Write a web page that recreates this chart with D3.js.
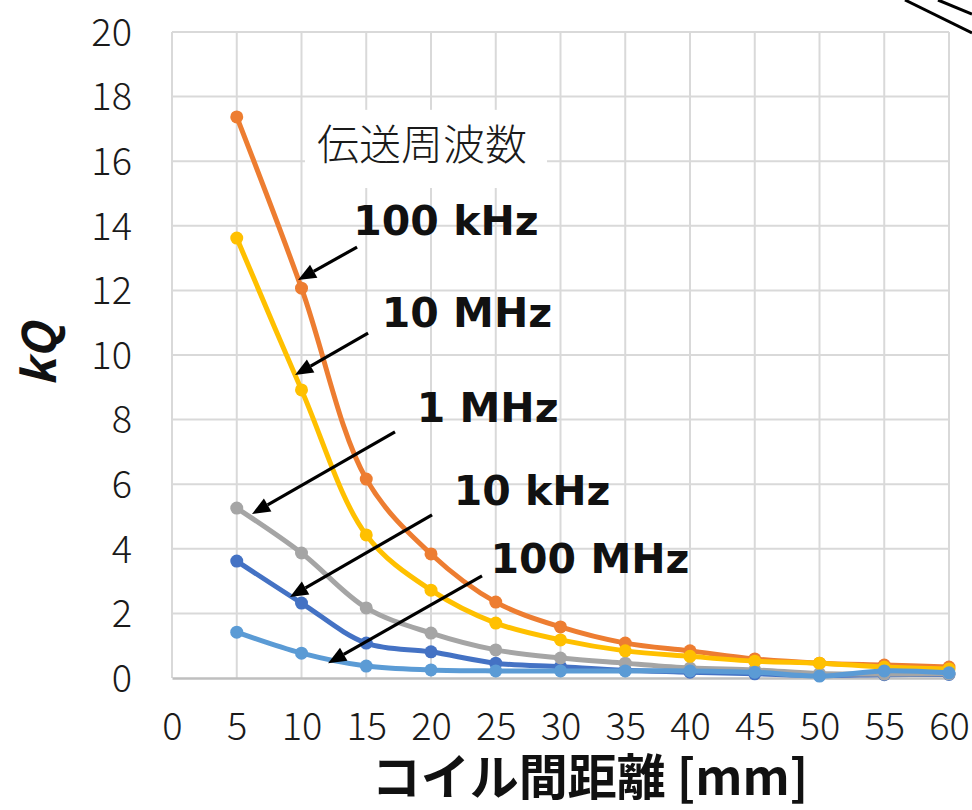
<!DOCTYPE html>
<html>
<head>
<meta charset="utf-8">
<script src="https://cdn.jsdelivr.net/npm/d3@7/dist/d3.min.js"></script>
<style>
  html, body { margin: 0; padding: 0; background: #fff; }
  svg { display: block; }
</style>
</head>
<body>
<svg id="chart" width="972" height="810"></svg>
<script>
// ---- data ----
const distances = [5, 10, 15, 20, 25, 30, 35, 40, 45, 50, 55, 60];
const seriesNames = ["10 kHz", "100 kHz", "1 MHz", "10 MHz", "100 MHz"];
const kQ_10kHz  = [3.62, 2.32, 1.08, 0.81, 0.46, 0.35, 0.24, 0.18, 0.13, 0.08, 0.10, 0.11];
const kQ_100kHz = [17.37, 12.07, 6.16, 3.84, 2.35, 1.58, 1.08, 0.84, 0.59, 0.46, 0.40, 0.34];
const kQ_1MHz   = [5.26, 3.87, 2.17, 1.39, 0.87, 0.62, 0.46, 0.31, 0.25, 0.14, 0.12, 0.13];
const kQ_10MHz  = [13.62, 8.92, 4.43, 2.72, 1.70, 1.18, 0.84, 0.67, 0.52, 0.46, 0.34, 0.28];
const kQ_100MHz = [1.42, 0.77, 0.37, 0.25, 0.22, 0.22, 0.22, 0.22, 0.18, 0.06, 0.22, 0.16];
const seriesColors = ["#4472C4", "#ED7D31", "#A5A5A5", "#FFC000", "#5B9BD5"];
const xTicks = [0, 5, 10, 15, 20, 25, 30, 35, 40, 45, 50, 55, 60];
const yTicks = [0, 2, 4, 6, 8, 10, 12, 14, 16, 18, 20];
const xTitle = "コイル間距離 [mm]";
const yTitle = "kQ";
const annoTitle = "伝送周波数";
// annotation labels (data units: left x, baseline y) and arrows (tail -> head)
const labelText = ["100 kHz", "10 MHz", "1 MHz", "10 kHz", "100 MHz"];
const labelX    = [14.0, 16.2, 18.9, 21.75, 24.6];
const labelY    = [13.72, 10.87, 7.93, 5.36, 3.25];
const arrowX1   = [14.29, 15.14, 17.22, 20.08, 23.94];
const arrowY1   = [13.34, 10.68, 7.62, 5.05, 3.16];
const arrowX2   = [9.73, 9.50, 6.18, 9.11, 12.05];
const arrowY2   = [12.32, 9.38, 5.08, 2.51, 0.46];

const seriesValues = [kQ_10kHz, kQ_100kHz, kQ_1MHz, kQ_10MHz, kQ_100MHz];
const series = seriesNames.map((name, i) => ({
  name, color: seriesColors[i],
  points: distances.map((d, j) => ({ x: d, y: seriesValues[i][j] }))
}));

// ---- layout ----
const svg = d3.select("#chart");
const x = d3.scaleLinear().domain([0, 60]).range([172, 949]);
const y = d3.scaleLinear().domain([0, 20]).range([678, 32]);

// gridlines
const grid = svg.append("g");
grid.selectAll("line.vx").data(xTicks).enter().append("line")
  .attr("x1", d => x(d)).attr("x2", d => x(d))
  .attr("y1", y(0)).attr("y2", y(20))
  .attr("stroke", "#d9d9d9").attr("stroke-width", 2);
grid.selectAll("line.hy").data(yTicks.slice(1)).enter().append("line")
  .attr("x1", x(0)).attr("x2", x(60))
  .attr("y1", d => y(d)).attr("y2", d => y(d))
  .attr("stroke", "#d9d9d9").attr("stroke-width", 2);

// axes
const xAxis = d3.axisBottom(x).tickValues(xTicks).tickSize(0).tickPadding(49);
const gx = svg.append("g").attr("transform", `translate(0,${y(0)})`).call(xAxis);
gx.select(".domain").attr("stroke", "#bfbfbf").attr("stroke-width", 2.5);
gx.selectAll("text").attr("font-family", "'Noto Sans CJK JP', sans-serif")
  .attr("font-weight", 300)
  .attr("font-size", 38).attr("fill", "#1a1a1a").attr("dy", "0.35em");

const yAxis = d3.axisLeft(y).tickValues(yTicks).tickSize(0).tickPadding(40);
const gy = svg.append("g").attr("transform", `translate(${x(0)},0)`).call(yAxis);
gy.select(".domain").remove();
gy.selectAll("text").attr("font-family", "'Noto Sans CJK JP', sans-serif")
  .attr("font-weight", 300)
  .attr("font-size", 38).attr("fill", "#1a1a1a").attr("dy", "0.35em");

// annotation title box
const boxX0 = 10.27, boxX1 = 28.96, boxY0 = 17.59, boxY1 = 15.17;
svg.append("rect")
  .attr("x", x(boxX0)).attr("y", y(boxY0))
  .attr("width", x(boxX1) - x(boxX0)).attr("height", y(boxY1) - y(boxY0))
  .attr("fill", "#fff");
svg.append("text").text(annoTitle)
  .attr("x", x(11.2)).attr("y", y(16.04))
  .attr("font-family", "'Noto Sans CJK JP', sans-serif")
  .attr("font-weight", 300)
  .attr("font-size", 42).attr("fill", "#1a1a1a");

// series
const line = d3.line().x(d => x(d.x)).y(d => y(d.y)).curve(d3.curveCatmullRom.alpha(0.5));
const sg = svg.append("g").selectAll("g").data(series).enter().append("g");
sg.append("path").attr("d", d => line(d.points))
  .attr("fill", "none").attr("stroke", d => d.color).attr("stroke-width", 5)
  .attr("stroke-linejoin", "round");
sg.selectAll("circle").data(d => d.points.map(p => ({ ...p, color: d.color }))).enter()
  .append("circle")
  .attr("cx", d => x(d.x)).attr("cy", d => y(d.y)).attr("r", 6.5)
  .attr("fill", d => d.color);

// labels
const lab = svg.append("g");
labelText.forEach((t, i) => {
  lab.append("text").text(t)
    .attr("x", x(labelX[i])).attr("y", y(labelY[i]))
    .attr("font-family", "'DejaVu Sans', sans-serif").attr("font-weight", "bold")
    .attr("font-size", 41).attr("fill", "#111");
  const x1 = x(arrowX1[i]), y1 = y(arrowY1[i]), x2 = x(arrowX2[i]), y2 = y(arrowY2[i]);
  const ang = Math.atan2(y2 - y1, x2 - x1);
  const L = 18, W = 7.5;
  const bx = x2 - L * Math.cos(ang), by = y2 - L * Math.sin(ang);
  lab.append("line").attr("x1", x1).attr("y1", y1).attr("x2", bx).attr("y2", by)
    .attr("stroke", "#000").attr("stroke-width", 3.2);
  const pts = [
    [x2, y2],
    [bx + W * Math.sin(ang), by - W * Math.cos(ang)],
    [bx - W * Math.sin(ang), by + W * Math.cos(ang)]
  ];
  lab.append("polygon").attr("points", pts.map(p => p.join(",")).join(" ")).attr("fill", "#000");
});

// axis titles
svg.append("text").text(xTitle)
  .attr("x", 590).attr("y", 795)
  .attr("text-anchor", "middle")
  .attr("font-family", "'Noto Sans CJK JP', sans-serif").attr("font-weight", "bold")
  .attr("font-size", 49).attr("fill", "#111");
svg.append("text").text(yTitle)
  .attr("transform", `translate(56,${(y(0) + y(20)) / 2}) rotate(-90)`)
  .attr("text-anchor", "middle")
  .attr("font-family", "'Noto Sans CJK JP', sans-serif").attr("font-weight", "bold")
  .attr("font-style", "italic")
  .attr("font-size", 46).attr("fill", "#111");

// decorative strokes at top-right corner (part of the cropped original)
svg.append("line").attr("x1", 905).attr("y1", 0).attr("x2", 972).attr("y2", 33)
  .attr("stroke", "#000").attr("stroke-width", 3);
svg.append("line").attr("x1", 938).attr("y1", 0).attr("x2", 972).attr("y2", 14)
  .attr("stroke", "#000").attr("stroke-width", 3);
</script>
</body>
</html>
